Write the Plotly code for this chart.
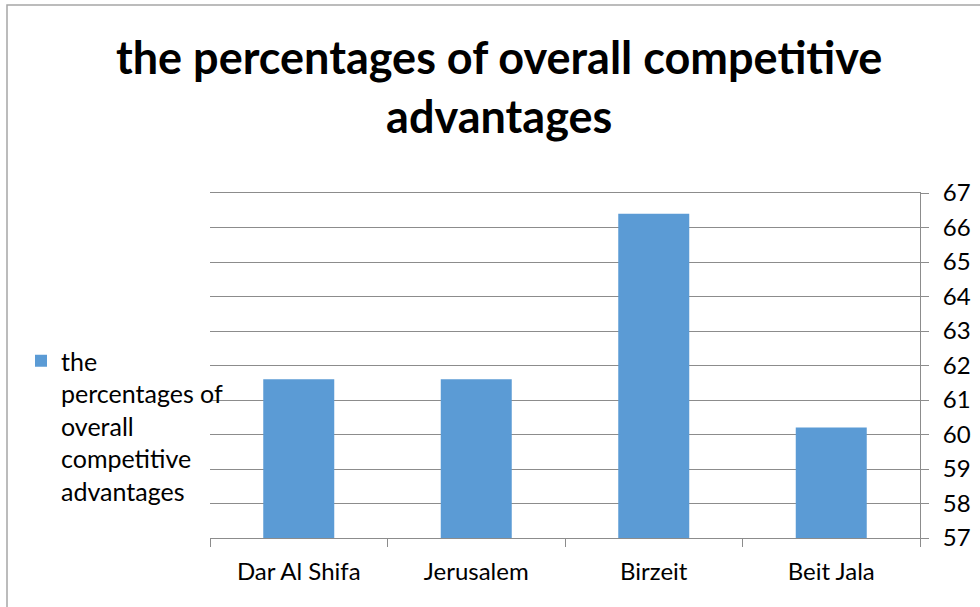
import plotly.graph_objects as go

# Overall competitive advantage (%) per hospital
categories = ["Dar Al Shifa", "Jerusalem", "Birzeit", "Beit Jala"]
values = [61.6, 61.6, 66.4, 60.2]
series_name = "the<br>percentages of<br>overall<br>competitive<br>advantages"
chart_title = "the percentages of overall competitive<br>advantages"
y_ticks = list(range(57, 68))

W, H = 980, 607
L, R, T, B = 210, 920, 193, 538  # plot area edges in pixels


def px_x(p):
    return (p - L) / (R - L)


def px_y(p):
    return (B - p) / (B - T)


fig = go.Figure()
fig.add_trace(go.Bar(
    x=categories,
    y=values,
    name=series_name,
    marker=dict(color="#5B9BD5", line=dict(width=0)),
    width=0.4,
    showlegend=True,
))

grid_col = "#8C8C8C"
fig.update_layout(
    width=W,
    height=H,
    margin=dict(l=L, r=W - R, t=T, b=H - B, pad=0, autoexpand=False),
    paper_bgcolor="white",
    plot_bgcolor="white",
    font=dict(family="Lato", size=24, color="#000000"),
    showlegend=True,
    legend=dict(
        x=px_x(21), xanchor="left",
        y=px_y(338), yanchor="top",
        valign="top",
        itemwidth=30,
        bgcolor="rgba(0,0,0,0)",
        font=dict(family="Lato", size=25, color="#000000"),
        tracegroupgap=0,
    ),
    bargap=0.6,
    xaxis=dict(
        type="category",
        automargin=False,
        showgrid=False,
        showline=True,
        mirror=True,
        linecolor=grid_col,
        linewidth=1,
        ticks="outside",
        tickson="boundaries",
        ticklen=8,
        tickcolor=grid_col,
        tickfont=dict(family="Lato", size=24, color="#000000"),
        ticklabelstandoff=12,
        zeroline=False,
        fixedrange=True,
    ),
    yaxis=dict(
        side="right",
        automargin=False,
        range=[57, 67],
        tickvals=y_ticks,
        showgrid=True,
        gridcolor=grid_col,
        gridwidth=1,
        showline=True,
        linecolor=grid_col,
        linewidth=1,
        ticks="outside",
        ticklen=8,
        tickcolor=grid_col,
        tickfont=dict(family="Lato", size=24, color="#000000"),
        ticklabelstandoff=9,
        zeroline=False,
        fixedrange=True,
    ),
    annotations=[
        dict(
            text=chart_title,
            xref="paper", yref="paper",
            x=px_x(499), y=px_y(87),
            xanchor="center", yanchor="middle",
            showarrow=False,
            font=dict(family="Lato", size=45, color="#000000", weight="bold"),
        )
    ],
    shapes=[
        dict(
            type="rect", xref="paper", yref="paper",
            x0=px_x(7), x1=px_x(W + 20),
            y0=px_y(H + 20), y1=px_y(5),
            line=dict(color="#A6A6A6", width=1.5),
            fillcolor="rgba(0,0,0,0)",
            layer="below",
        )
    ],
)

fig.write_html("out.html")
